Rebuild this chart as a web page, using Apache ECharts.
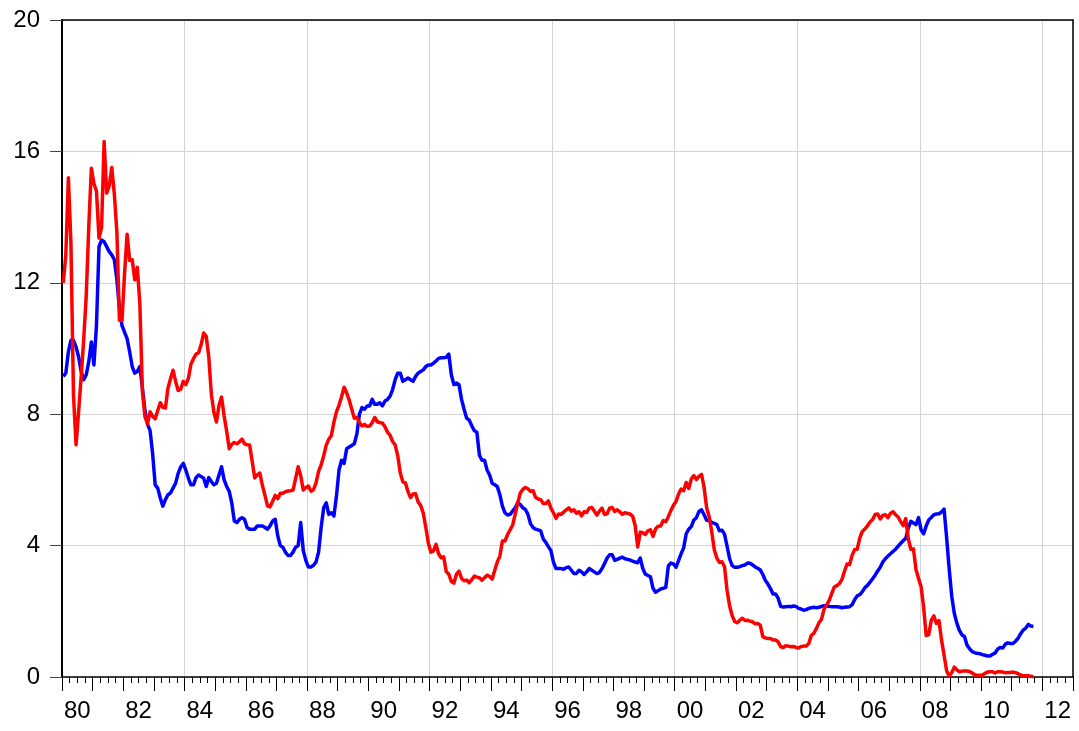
<!DOCTYPE html>
<html>
<head>
<meta charset="utf-8">
<script src="https://cdn.jsdelivr.net/npm/echarts@6/dist/echarts.min.js"></script>
<style>
html,body{margin:0;padding:0;background:#ffffff;}
#chart{width:1079px;height:731px;}
</style>
</head>
<body>
<div id="chart"></div>
<script>
// Monthly observations, first month = January of startYear
const startYear = 1980;
const tickLabels = ['80','82','84','86','88','90','92','94','96','98','00','02','04','06','08','10','12'];
const yTicks = [0, 4, 8, 12, 16, 20];

// Red series (monthly, 1980:01 - 2011:09)
const redRate = [
  12.00,12.86,15.20,13.20,8.58,7.07,8.06,9.13,10.27,11.62,13.73,15.49,
  15.02,14.79,13.36,13.69,16.30,14.73,14.95,15.51,14.70,13.54,10.86,10.85,
  12.28,13.48,12.68,12.70,12.09,12.47,11.35,8.68,7.92,7.71,8.07,7.94,
  7.86,8.11,8.35,8.21,8.19,8.79,9.08,9.34,9.00,8.72,8.76,9.00,
  8.90,9.09,9.52,9.69,9.83,9.87,10.12,10.47,10.37,9.74,8.61,8.06,
  7.76,8.27,8.52,7.95,7.48,6.95,7.08,7.14,7.10,7.16,7.24,7.10,
  7.07,7.06,6.56,6.06,6.15,6.21,5.83,5.53,5.21,5.18,5.35,5.53,
  5.43,5.59,5.59,5.64,5.66,5.67,5.69,6.04,6.40,6.13,5.69,5.77,
  5.81,5.66,5.70,5.91,6.26,6.46,6.73,7.06,7.24,7.35,7.76,8.07,
  8.27,8.53,8.82,8.65,8.43,8.15,7.88,7.90,7.75,7.64,7.69,7.63,
  7.64,7.74,7.90,7.77,7.74,7.73,7.62,7.45,7.36,7.17,7.06,6.74,
  6.22,5.94,5.91,5.65,5.46,5.57,5.58,5.33,5.22,4.99,4.56,4.07,
  3.80,3.84,4.04,3.75,3.63,3.66,3.21,3.13,2.91,2.86,3.13,3.22,
  3.00,2.93,2.95,2.87,2.96,3.07,3.04,3.02,2.95,3.02,3.10,3.06,
  2.98,3.25,3.50,3.68,4.14,4.14,4.33,4.48,4.62,4.95,5.29,5.60,
  5.71,5.77,5.73,5.65,5.67,5.47,5.42,5.40,5.28,5.28,5.36,5.14,
  5.00,4.83,4.96,4.95,5.02,5.09,5.15,5.05,5.09,4.99,5.03,4.91,
  5.03,5.01,5.14,5.16,5.05,4.93,5.05,5.14,4.95,4.97,5.14,5.16,
  5.04,5.09,5.03,4.95,5.00,4.98,4.96,4.90,4.61,3.96,4.41,4.39,
  4.34,4.45,4.48,4.28,4.51,4.59,4.60,4.76,4.73,4.88,5.07,5.23,
  5.34,5.57,5.72,5.67,5.92,5.74,6.03,6.13,6.01,6.11,6.17,5.77,
  5.15,4.88,4.42,3.87,3.62,3.49,3.51,3.36,2.64,2.16,1.87,1.69,
  1.65,1.73,1.79,1.72,1.73,1.70,1.68,1.62,1.63,1.58,1.23,1.19,
  1.17,1.17,1.13,1.13,1.07,0.92,0.90,0.95,0.94,0.92,0.93,0.90,
  0.88,0.93,0.94,0.94,1.02,1.27,1.33,1.48,1.65,1.76,2.07,2.19,
  2.33,2.54,2.74,2.78,2.84,2.97,3.22,3.44,3.42,3.71,3.88,3.89,
  4.24,4.43,4.51,4.60,4.72,4.79,4.95,4.96,4.81,4.92,4.94,4.85,
  4.98,5.03,4.94,4.87,4.73,4.61,4.82,4.20,3.89,3.90,3.27,3.00,
  2.75,2.12,1.26,1.29,1.73,1.86,1.63,1.72,1.13,0.67,0.19,0.03,
  0.13,0.30,0.22,0.16,0.18,0.18,0.18,0.17,0.12,0.07,0.05,0.05,
  0.06,0.11,0.15,0.16,0.16,0.12,0.16,0.16,0.15,0.13,0.14,0.14,
  0.15,0.13,0.10,0.06,0.04,0.04,0.04,0.02,0.01
];

// Blue series (monthly, 1980:01 - 2011:09)
const blueRate = [
  9.15,9.25,9.90,10.25,10.25,10.05,9.75,9.30,9.05,9.20,9.60,10.20,
  9.50,10.70,13.10,13.30,13.25,13.10,12.95,12.85,12.70,12.10,11.20,10.70,
  10.50,10.30,9.90,9.45,9.25,9.30,9.45,8.80,8.10,7.70,7.50,6.80,
  5.85,5.75,5.45,5.20,5.40,5.55,5.60,5.75,5.90,6.20,6.40,6.50,
  6.30,6.05,5.85,5.85,6.07,6.15,6.10,6.05,5.80,6.07,5.95,5.85,
  5.90,6.15,6.40,6.00,5.80,5.65,5.30,4.75,4.70,4.80,4.85,4.80,
  4.55,4.50,4.50,4.50,4.60,4.60,4.60,4.55,4.50,4.60,4.75,4.80,
  4.30,4.00,3.95,3.80,3.70,3.70,3.80,3.95,4.00,4.70,3.85,3.55,
  3.35,3.35,3.40,3.50,3.80,4.55,5.15,5.30,4.95,5.00,4.90,5.50,
  6.30,6.60,6.50,6.95,7.00,7.05,7.10,7.40,8.00,8.20,8.15,8.25,
  8.25,8.45,8.30,8.30,8.35,8.25,8.40,8.45,8.55,8.75,9.05,9.25,
  9.25,9.00,9.05,9.10,9.05,9.00,9.15,9.25,9.30,9.35,9.45,9.50,
  9.50,9.55,9.62,9.70,9.72,9.72,9.73,9.83,9.20,8.90,8.95,8.90,
  8.45,8.15,7.88,7.82,7.65,7.50,7.45,6.75,6.60,6.60,6.30,6.15,
  5.90,5.85,5.80,5.55,5.20,5.00,4.93,4.95,5.05,5.15,5.30,5.25,
  5.15,5.10,4.95,4.67,4.55,4.50,4.48,4.45,4.20,4.10,3.97,3.85,
  3.50,3.30,3.30,3.30,3.28,3.33,3.35,3.25,3.15,3.15,3.25,3.20,
  3.12,3.20,3.30,3.25,3.20,3.15,3.18,3.30,3.45,3.62,3.72,3.72,
  3.55,3.58,3.62,3.65,3.60,3.58,3.56,3.53,3.50,3.48,3.62,3.30,
  3.13,3.09,3.05,2.70,2.58,2.63,2.68,2.70,2.73,3.38,3.47,3.44,
  3.34,3.54,3.75,3.93,4.36,4.50,4.58,4.78,4.85,5.04,5.09,4.94,
  4.77,4.76,4.71,4.68,4.64,4.45,4.47,4.35,3.98,3.60,3.39,3.34,
  3.34,3.36,3.39,3.41,3.47,3.46,3.41,3.35,3.31,3.26,3.12,2.94,
  2.83,2.69,2.53,2.53,2.40,2.15,2.13,2.14,2.15,2.14,2.16,2.15,
  2.09,2.07,2.03,2.05,2.09,2.11,2.12,2.11,2.12,2.15,2.17,2.17,
  2.15,2.14,2.14,2.14,2.13,2.11,2.12,2.13,2.14,2.20,2.36,2.47,
  2.51,2.60,2.72,2.79,2.89,2.99,3.10,3.23,3.34,3.50,3.60,3.68,
  3.75,3.82,3.89,3.98,4.07,4.15,4.22,4.54,4.74,4.69,4.64,4.85,
  4.48,4.36,4.60,4.78,4.86,4.94,4.96,4.97,5.02,5.11,4.24,3.29,
  2.46,1.94,1.64,1.42,1.28,1.23,0.97,0.86,0.77,0.74,0.72,0.71,
  0.68,0.66,0.64,0.64,0.69,0.73,0.85,0.90,0.88,1.00,1.04,1.02,
  1.02,1.09,1.18,1.32,1.43,1.49,1.60,1.55,1.54
];

function toPairs(arr) {
  return arr.map((v, i) => [startYear + (i + 0.5) / 12, v]);
}

const FONT = "'Liberation Sans', Arial, sans-serif";
const chart = echarts.init(document.getElementById('chart'), null, {renderer: 'canvas'});

const xMin = 1980, xMax = 2013;
const yMin = yTicks[0], yMax = yTicks[yTicks.length - 1], yStep = yTicks[1] - yTicks[0];

chart.setOption({
  animation: false,
  backgroundColor: '#ffffff',
  grid: {
    left: 62, right: 6, top: 20, bottom: 54,
    show: false
  },
  xAxis: [
    {
      type: 'value', min: xMin, max: xMax, interval: 4, position: 'bottom',
      axisLine: {show: false}, axisTick: {show: false}, axisLabel: {show: false},
      splitLine: {show: true, lineStyle: {color: '#d3d3d3', width: 1}}
    },
    {
      type: 'value', min: xMin, max: xMax, interval: 1, position: 'bottom',
      axisLine: {show: true, onZero: false, lineStyle: {color: '#000000', width: 1.5}},
      axisTick: {show: true, length: 14, lineStyle: {color: '#000000', width: 1}},
      minorTick: {show: true, splitNumber: 4, length: 6, lineStyle: {color: '#000000', width: 1}},
      splitLine: {show: false},
      axisLabel: {show: false}
    },
    {
      type: 'value', min: xMin, max: xMax, interval: 0.5, position: 'bottom',
      axisLine: {show: false}, axisTick: {show: false}, splitLine: {show: false},
      axisLabel: {
        show: true, margin: 22, fontSize: 24, color: '#000000', fontFamily: FONT,
        showMinLabel: true, showMaxLabel: true,
        formatter: function (v) {
          const k = (v - 0.5 - startYear) / 2;
          if (Math.abs(k - Math.round(k)) < 1e-6) {
            const idx = Math.round(k);
            if (idx >= 0 && idx < tickLabels.length) return tickLabels[idx];
          }
          return '';
        }
      }
    },
    {
      type: 'value', min: xMin, max: xMax, position: 'top',
      axisLine: {show: true, onZero: false, lineStyle: {color: '#000000', width: 1.5}},
      axisTick: {show: false}, axisLabel: {show: false}, splitLine: {show: false}
    }
  ],
  yAxis: [
    {
      type: 'value', min: yMin, max: yMax, interval: yStep, position: 'left',
      axisLine: {show: true, onZero: false, lineStyle: {color: '#000000', width: 2}},
      axisTick: {show: true, length: 12, lineStyle: {color: '#444444', width: 1}},
      axisLabel: {margin: 22, fontSize: 24, color: '#000000', fontFamily: FONT},
      splitLine: {show: true, lineStyle: {color: '#d3d3d3', width: 1}}
    },
    {
      type: 'value', min: yMin, max: yMax, interval: yStep, position: 'right',
      axisLine: {show: true, onZero: false, lineStyle: {color: '#000000', width: 1.5}},
      axisTick: {show: false}, axisLabel: {show: false}, splitLine: {show: false}
    }
  ],
  series: [
    {
      type: 'line', xAxisIndex: 1, yAxisIndex: 0, data: toPairs(blueRate),
      showSymbol: false, symbol: 'none',
      lineStyle: {color: '#0000ff', width: 3.5, join: 'round'},
      itemStyle: {color: '#0000ff'}
    },
    {
      type: 'line', xAxisIndex: 1, yAxisIndex: 0, data: toPairs(redRate),
      showSymbol: false, symbol: 'none',
      lineStyle: {color: '#ff0000', width: 3.5, join: 'round'},
      itemStyle: {color: '#ff0000'}
    }
  ]
});
</script>
</body>
</html>
